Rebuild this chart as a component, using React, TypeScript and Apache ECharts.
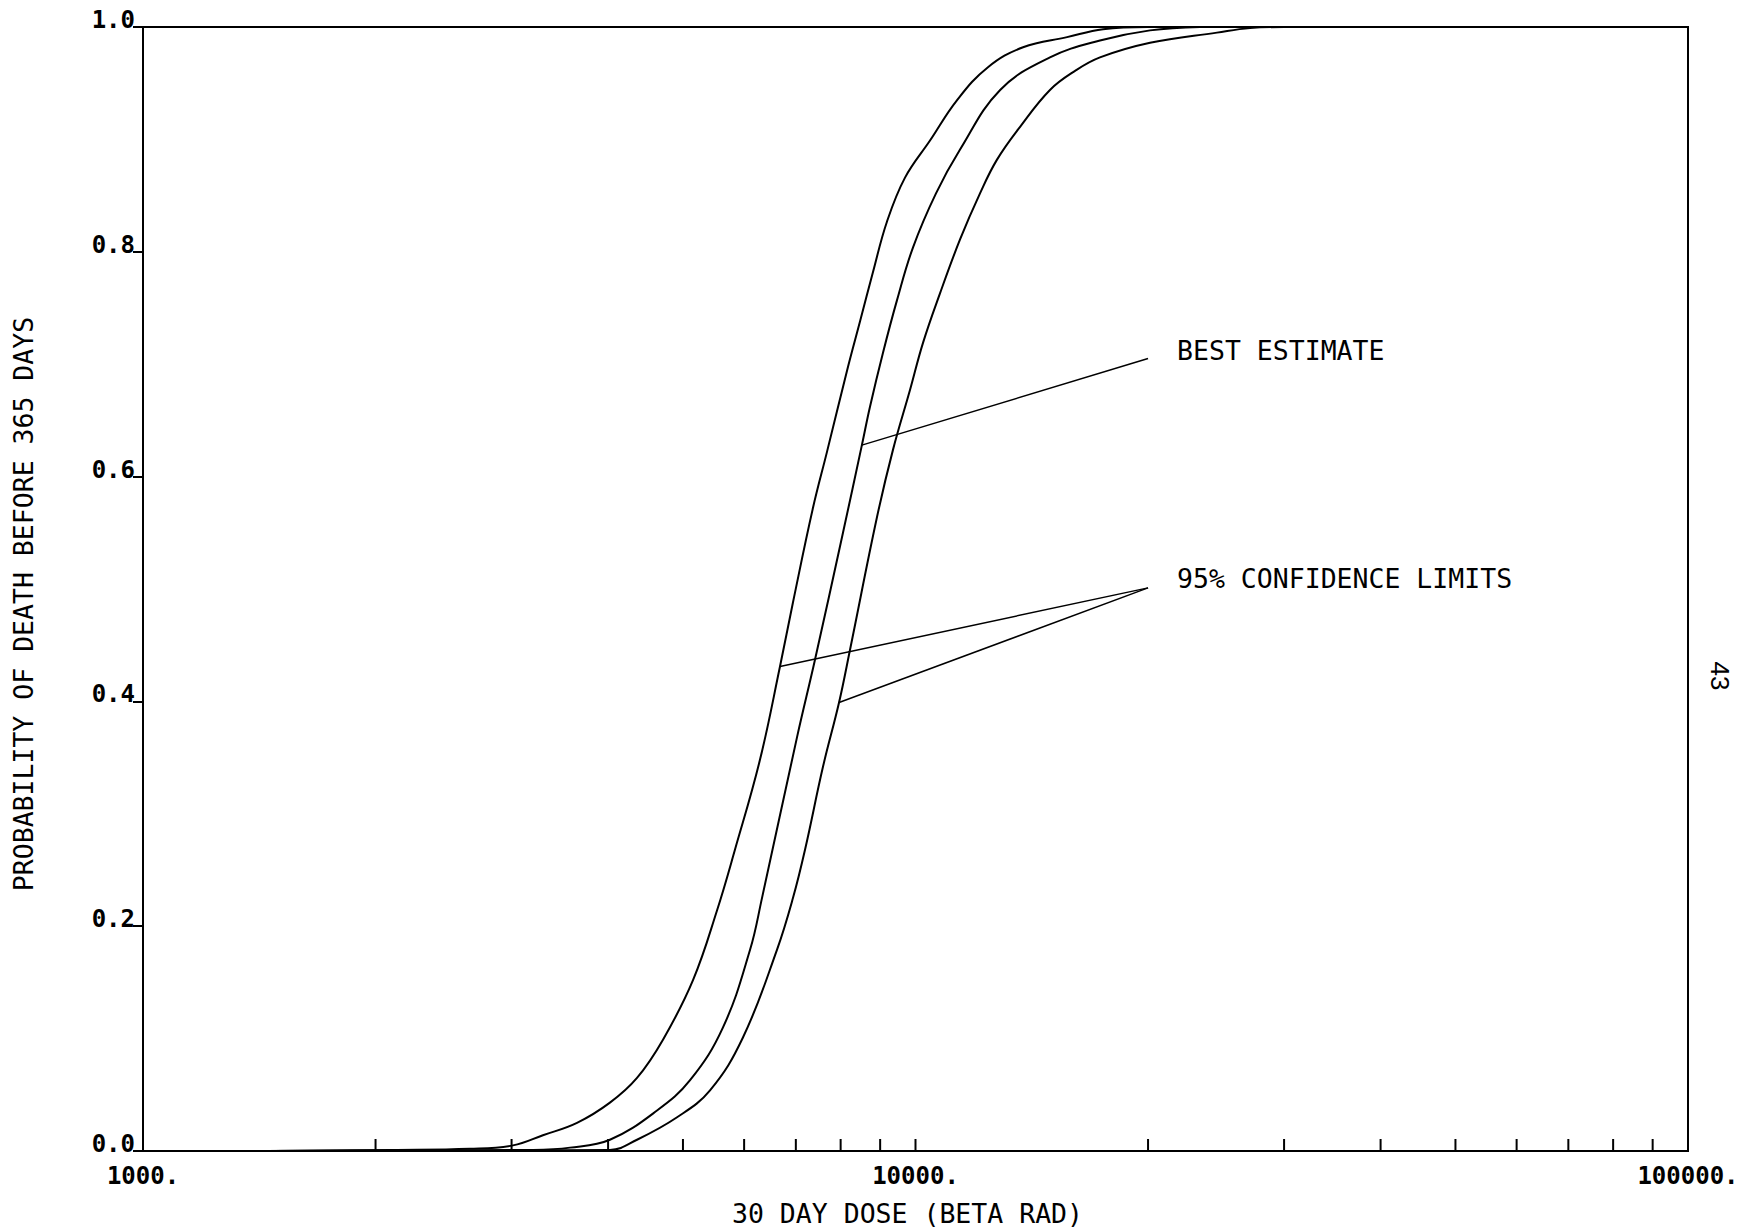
import React, { useEffect, useRef } from 'react';
import * as echarts from 'echarts';

// 30-day dose (beta rad) vs probability of death before 365 days
const leftLimit: [number, number][] = [
  [1450, 0], [2100, 0.001], [2650, 0.002], [3013, 0.005], [3294, 0.014], [3646, 0.025],
  [4022, 0.043], [4360, 0.065], [4711, 0.099], [5152, 0.152], [5534, 0.214], [5838, 0.268],
  [6290, 0.348], [6677, 0.431], [6940, 0.488], [7366, 0.572], [7681, 0.622],
  [8152, 0.694], [8475, 0.738], [8810, 0.782], [9186, 0.827], [9692, 0.866], [10442, 0.899],
  [11320, 0.935], [12400, 0.964], [13780, 0.982], [15710, 0.991], [17490, 0.998], [20000, 1.0],
];

const bestEstimate: [number, number][] = [
  [1450, 0], [3200, 0.001], [3571, 0.003], [4022, 0.01], [4628, 0.036], [5107, 0.063],
  [5634, 0.11], [6107, 0.179], [6328, 0.225], [7024, 0.368],
  [7411, 0.437], [8056, 0.55], [8523, 0.628], [8730, 0.662], [9075, 0.71], [9464, 0.757],
  [9927, 0.804], [10630, 0.852], [11420, 0.891], [12870, 0.944], [14930, 0.973],
  [17330, 0.988], [20120, 0.997], [23360, 1.0],
];

const rightLimit: [number, number][] = [
  [1450, 0], [4022, 0.001], [4360, 0.01], [4913, 0.03], [5420, 0.054], [5979, 0.101],
  [6617, 0.179], [6940, 0.225], [7194, 0.268], [7591, 0.342], [7962, 0.399], [8227, 0.446],
  [8916, 0.564], [9352, 0.624], [9837, 0.677], [10226, 0.719], [10757, 0.763], [11420, 0.811],
  [12120, 0.852], [12750, 0.882], [13650, 0.911], [14930, 0.944], [16090, 0.961], [17330, 0.973],
  [20120, 0.986], [24560, 0.995], [27100, 0.999], [30000, 1.0],
];

// annotation leader lines
const bestLeader: [number, number][] = [[8523, 0.628], [20000, 0.705]];
const confLeaderUpper: [number, number][] = [[6677, 0.431], [20000, 0.501]];
const confLeaderLower: [number, number][] = [[7962, 0.399], [20000, 0.501]];

const bestLabel = 'BEST ESTIMATE';
const confLabel = '95% CONFIDENCE LIMITS';

// minor ticks on log x axis
const xMinorTicks: number[] = [
  2000, 3000, 4000, 5000, 6000, 7000, 8000, 9000, 10000,
  20000, 30000, 40000, 50000, 60000, 70000, 80000, 90000,
];
const xTickLabels: Record<string, string> = { '1000': '1000.', '10000': '10000.', '100000': '100000.' };

const xName = '30 DAY DOSE (BETA RAD)';
const yName = 'PROBABILITY OF DEATH BEFORE 365 DAYS';
const pageNumber = '43';

const MONO = '"DejaVu Sans Mono", "Liberation Mono", monospace';
const TEXT_SIZE = 26.5;

export default function App() {
  const ref = useRef<HTMLDivElement>(null);
  useEffect(() => {
    if (!ref.current) return;
    const chart = echarts.init(ref.current, undefined, { renderer: 'svg' });
    const curveStyle = { color: '#000', width: 2 };
    const leaderStyle = { color: '#000', width: 1.5 };
    const endLabelBase = {
      show: true,
      color: '#000',
      fontFamily: MONO,
      fontSize: TEXT_SIZE,
      distance: 29,
    };
    chart.setOption({
      animation: false,
      backgroundColor: '#fff',
      grid: {
        left: 143, right: 50, top: 27, bottom: 78,
        show: true, borderColor: '#000', borderWidth: 2,
        outerBoundsMode: 'none',
      },
      xAxis: {
        type: 'log',
        logBase: 10,
        min: 1000,
        max: 100000,
        interval: 1,
        splitLine: { show: false },
        axisLine: { show: true, lineStyle: { color: '#000', width: 2 } },
        axisTick: { show: false },
        axisLabel: {
          color: '#000',
          fontFamily: MONO,
          fontWeight: 'bold',
          fontSize: 24,
          lineHeight: 24,
          margin: 13,
          formatter: (v: number) => xTickLabels[String(Math.round(v))] ?? '',
        },
        name: xName,
        nameLocation: 'middle',
        nameGap: 49,
        nameTextStyle: {
          color: '#000', fontFamily: MONO, fontSize: TEXT_SIZE,
          padding: [0, 16, 0, 0],
        },
      },
      yAxis: {
        type: 'value',
        min: 0,
        max: 1,
        interval: 0.2,
        splitLine: { show: false },
        axisLine: { show: true, lineStyle: { color: '#000', width: 2 } },
        axisTick: { show: true, inside: false, length: 10, lineStyle: { color: '#000', width: 2 } },
        axisLabel: {
          color: '#000',
          fontFamily: MONO,
          fontWeight: 'bold',
          fontSize: 24,
          lineHeight: 14,
          verticalAlign: 'bottom',
          margin: 8,
          formatter: (v: number) => v.toFixed(1),
        },
        name: yName,
        nameLocation: 'middle',
        nameRotate: 90,
        nameGap: 106,
        nameTextStyle: {
          color: '#000', fontFamily: MONO, fontSize: TEXT_SIZE,
          padding: [0, 30, 0, 0],
        },
      },
      graphic: [
        {
          type: 'text',
          x: 1720,
          y: 676,
          rotation: -Math.PI / 2,
          style: {
            text: pageNumber,
            fill: '#000',
            font: '26px "Liberation Sans", sans-serif',
            align: 'center',
            verticalAlign: 'middle',
          },
        },
      ],
      series: [
        {
          type: 'line', name: 'lower', data: leftLimit, showSymbol: false,
          smooth: 0.4, lineStyle: curveStyle, z: 3,
        },
        {
          type: 'line', name: 'best', data: bestEstimate, showSymbol: false,
          smooth: 0.4, lineStyle: curveStyle, z: 3,
        },
        {
          type: 'line', name: 'upper', data: rightLimit, showSymbol: false,
          smooth: 0.4, lineStyle: curveStyle, z: 3,
        },
        {
          type: 'line', name: 'bestLeader', data: bestLeader, showSymbol: false,
          lineStyle: leaderStyle,
          endLabel: { ...endLabelBase, formatter: bestLabel, offset: [0, -8] },
        },
        {
          type: 'line', name: 'confLeaderUpper', data: confLeaderUpper, showSymbol: false,
          lineStyle: leaderStyle,
          endLabel: { ...endLabelBase, formatter: confLabel, offset: [0, -9] },
        },
        {
          type: 'line', name: 'confLeaderLower', data: confLeaderLower, showSymbol: false,
          lineStyle: leaderStyle,
        },
        {
          type: 'custom',
          name: 'xMinorTicks',
          data: xMinorTicks.map((v) => [v, 0]),
          encode: { x: 0, y: 1 },
          clip: false,
          renderItem: (_params: any, api: any) => {
            const p = api.coord([api.value(0), 0]);
            return {
              type: 'line',
              shape: { x1: p[0], y1: p[1], x2: p[0], y2: p[1] - 12 },
              style: { stroke: '#000', lineWidth: 2 },
            };
          },
          z: 4,
        },
      ],
    });
    return () => chart.dispose();
  }, []);
  return (
    <div
      ref={ref}
      style={{ position: 'fixed', left: 0, top: 0, width: 1738, height: 1229, background: '#fff' }}
    />
  );
}
